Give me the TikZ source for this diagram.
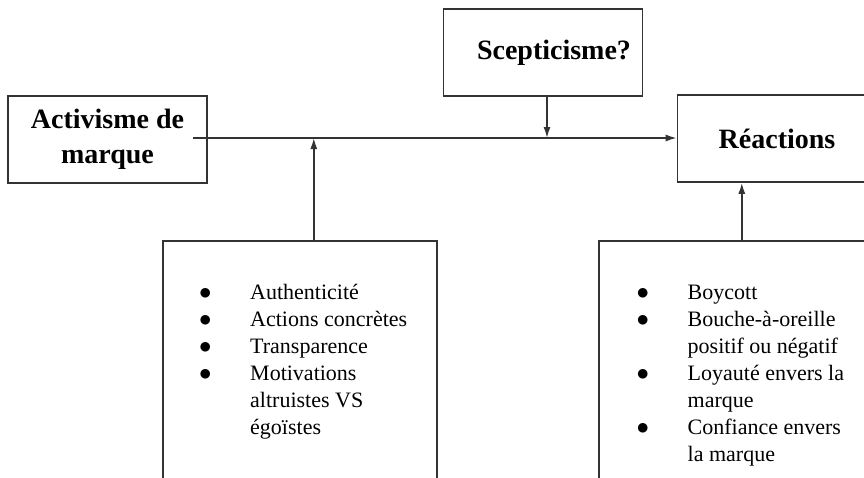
\documentclass[tikz,border=0pt]{standalone}
\usepackage{fontspec}
\setmainfont{Liberation Serif}
\usetikzlibrary{positioning,arrows.meta}

\newcommand{\puce}{\makebox[50pt][l]{\hspace*{-1pt}\scalebox{1.2}{$\bullet$}}}
\newcommand{\suite}{\hspace*{50pt}}

\begin{document}
\begin{tikzpicture}[%
        x=1pt, y=-1pt,
        bloc/.style={draw=black!80, line width=1.6pt, minimum width=199pt,
            minimum height=87pt, inner sep=0pt, align=center,
            font=\bfseries\fontsize{28}{35}\selectfont},
        liste/.style={draw=black!80, line width=1.6pt, minimum width=274pt,
            minimum height=260pt, anchor=north west},
        puces/.style={anchor=north west, inner sep=0pt, align=left,
            font=\fontsize{22}{27}\selectfont},
        fleche/.style={->, draw=black!80, line width=1.6pt},
        >={Latex[length=11pt,width=7pt]} % Pfeilspitzen
        ]
            \useasboundingbox (0,0) rectangle (864,477);
            \clip (0,0) rectangle (864,477);

            % Bloecke
            \node[bloc] (activ) at (107.5,139.5) {Activisme de\\marque};
            \node[bloc] (scept) at (543,52.5)    {\hspace*{22pt}\raisebox{-2pt}{Scepticisme?}};
            \node[bloc] (react) at (777,138.5)   {Réactions};

            % Listen
            \node[liste] (facteurs) at (162,240) {};
            \node[liste] (reponses) at (598,240) {};

            \node[puces, below right=40pt and 38pt of facteurs.north west] (f-liste)
                {\strut\puce Authenticité\\
                 \puce Actions concrètes\\
                 \puce Transparence\\
                 \puce Motivations\\
                 \suite altruistes VS\\
                 \suite égoïstes};

            \node[puces, below right=40pt and 39.5pt of reponses.north west] (r-liste)
                {\strut\puce Boycott\\
                 \puce Bouche-à-oreille\\
                 \suite positif ou négatif\\
                 \puce Loyauté envers la\\
                 \suite marque\\
                 \puce Confiance envers\\
                 \suite la marque};

            % Pfeile
            \coordinate (depart) at ([xshift=-15pt,yshift=1.5pt]activ.east);
            \draw[fleche] (depart) -- (depart -| react.west);
            \draw[fleche] ([xshift=4pt]scept.south) -- ([xshift=4pt]scept.south |- depart);
            \draw[fleche] ([xshift=14pt]facteurs.north) -- ([xshift=14pt]facteurs.north |- depart);
            \draw[fleche] ([xshift=6pt]reponses.north) -- ([xshift=6pt]reponses.north |- react.south);
        \end{tikzpicture}
\end{document}
